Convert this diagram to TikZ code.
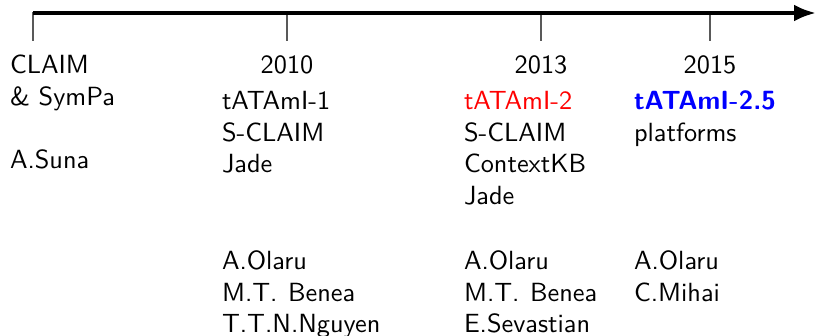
\documentclass[tikz,border=0pt]{standalone}
\usepackage{fontspec}
\newfontfamily\lmsten[BoldFont=lmsans10-bold.otf]{lmsans10-regular.otf}
\usetikzlibrary{arrows.meta}
\begin{document}
\begin{tikzpicture}[x=1pt,y=-1pt,
  txt/.style={inner sep=0pt,outer sep=0pt,anchor=base west,
    font=\lmsten\fontsize{26.3}{31.5}\selectfont},
  yr/.style={txt,anchor=base},
  axis/.style={line width=4pt,-{Latex[length=22pt,width=17pt]}},
  tickline/.style={line width=1.3pt,black!65}]
\useasboundingbox (0,0) rectangle (817,336);
% axis
\coordinate (a0) at (33,13);
\coordinate (aend) at (816,13);
\coordinate (t0) at (33,12); \coordinate (b0) at (33,41);
\coordinate (t1) at (287,12); \coordinate (b1) at (287,41);
\coordinate (t2) at (541,12); \coordinate (b2) at (541,41);
\coordinate (t3) at (710,12); \coordinate (b3) at (710,41);
\draw[tickline] (t0) -- (b0);
\draw[tickline] (t1) -- (b1);
\draw[tickline] (t2) -- (b2);
\draw[tickline] (t3) -- (b3);
\draw[axis] (a0) -- (aend);
% first column
\node[txt] (claim) at (10,74) {CLAIM};
\node[txt] (sympa) at (10,105.5) {\& SymPa};
\node[txt] (suna) at (10,168.5) {A.Suna};
% 2010
\node[yr] (y2010) at (287,74) {2010};
\node[txt] (ta1) at (222,110) {tATAmI-1};
\node[txt] (sc1) at (222,141.5) {S-CLAIM};
\node[txt] (jd1) at (222,173) {Jade};
\node[txt] (o1) at (222,270) {A.Olaru};
\node[txt] (b1n) at (222,301.5) {M.T.\hspace{0.4em}Benea};
\node[txt] (n1) at (222,333) {T.T.N.Nguyen};
% 2013
\node[yr] (y2013) at (541,74) {2013};
\node[txt,text=red] (ta2) at (464,110) {tATAmI-2};
\node[txt] (sc2) at (464,141.5) {S-CLAIM};
\node[txt] (ckb) at (464,173) {ContextKB};
\node[txt] (jd2) at (464,204.5) {Jade};
\node[txt] (o2) at (464,270) {A.Olaru};
\node[txt] (b2n) at (464,301.5) {M.T.\hspace{0.4em}Benea};
\node[txt] (sev) at (464,333) {E.Sevastian};
% 2015
\node[yr] (y2015) at (710,74) {2015};
\node[txt,text=blue] (ta3) at (634,110) {\bfseries tATAmI-2.5};
\node[txt] (plat) at (634,141.5) {platforms};
\node[txt] (o3) at (634,270) {A.Olaru};
\node[txt] (mih) at (634,301.5) {C.Mihai};
\end{tikzpicture}
\end{document}
